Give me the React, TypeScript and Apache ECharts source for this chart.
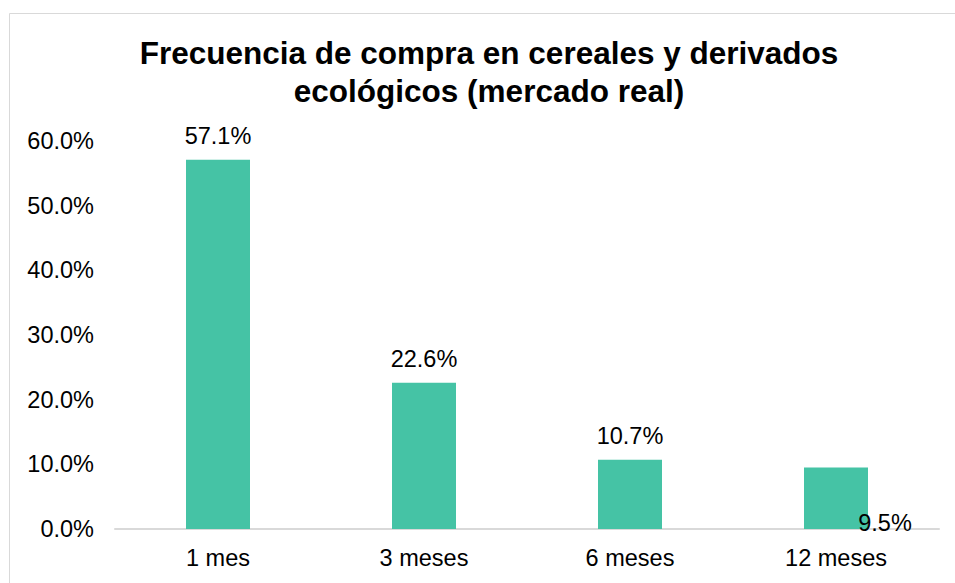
import React, { useEffect, useRef } from "react";
import * as echarts from "echarts";

const categories = ["1 mes", "3 meses", "6 meses", "12 meses"];
const values = [57.1, 22.6, 10.7, 9.5];
const yTicks = [0, 10, 20, 30, 40, 50, 60];

export default function App() {
  const ref = useRef<HTMLDivElement>(null);
  useEffect(() => {
    document.body.style.margin = "0";
    const chart = echarts.init(ref.current!, null, { renderer: "svg" });
    const font = "Liberation Sans, Arial, Helvetica, sans-serif";
    chart.setOption({
      animation: false,
      backgroundColor: "#ffffff",
      graphic: [
        {
          type: "rect",
          shape: { x: 9.5, y: 13.5, width: 980, height: 600 },
          style: { fill: "none", stroke: "#d9d9d9", lineWidth: 1 },
          silent: true,
        },
      ],
      title: {
        text: "Frecuencia de compra en cereales y derivados\necológicos (mercado real)",
        left: 489,
        textAlign: "center",
        top: 34,
        padding: 0,
        textStyle: {
          fontFamily: font,
          fontSize: 31.5,
          fontWeight: "bold",
          color: "#000000",
          lineHeight: 38,
        },
      },
      grid: { left: 115, right: 16, top: 141, bottom: 54, containLabel: false },
      xAxis: {
        type: "category",
        data: categories,
        axisLine: { lineStyle: { color: "#d9d9d9", width: 2 } },
        axisTick: { show: false },
        axisLabel: { fontFamily: font, fontSize: 23.5, color: "#000000", margin: 17 },
      },
      yAxis: {
        type: "value",
        min: yTicks[0],
        max: yTicks[yTicks.length - 1],
        interval: 10,
        axisLine: { show: false },
        axisTick: { show: false },
        splitLine: { show: false },
        axisLabel: {
          fontFamily: font,
          fontSize: 23.5,
          color: "#000000",
          margin: 21,
          formatter: (v: number) => v.toFixed(1) + "%",
        },
      },
      series: [
        {
          type: "bar",
          barWidth: 64,
          itemStyle: { color: "#45C3A5" },
          data: values.map((v, i) =>
            i === values.length - 1
              ? {
                  value: v,
                  label: {
                    position: [81, 55],
                    align: "center",
                    verticalAlign: "middle",
                  },
                }
              : v
          ),
          label: {
            show: true,
            position: "top",
            distance: 12,
            fontFamily: font,
            fontSize: 23.5,
            color: "#000000",
            formatter: (p: any) => p.value.toFixed(1) + "%",
          },
        },
      ],
    });
    return () => chart.dispose();
  }, []);
  return <div ref={ref} style={{ width: 955, height: 583 }} />;
}
